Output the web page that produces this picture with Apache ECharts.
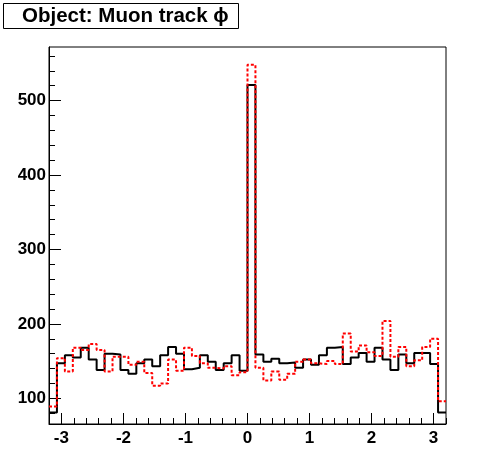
<!DOCTYPE html>
<html>
<head>
<meta charset="utf-8">
<script src="https://cdn.jsdelivr.net/npm/echarts@6/dist/echarts.min.js"></script>
<style>html,body{margin:0;padding:0;background:#fff;}#c{width:496px;height:472px;}</style>
</head>
<body>
<div id="c"></div>
<script>
// Histogram binning
const binLow = -3.2;
const binWidth = 0.128;
// Bin contents (50 bins)
const blackCounts = [81,147,158,155,168,152,138,160,159,138,133,147,152,143,158,169,160,139,141,158,149,138,147,158,137,521,159,149,153,147,148,141,152,145,158,168,169,146,155,161,149,168,152,138,159,147,161,161,146,81];
const redCounts = [89,154,136,168,165,173,165,136,156,156,145,149,134,117,120,152,137,168,157,147,141,140,143,131,135,548,141,124,136,125,133,149,152,147,146,150,146,187,163,171,162,157,204,156,169,143,151,169,180,96];
// Tick values
const xMajorTicks = [-3,-2,-1,0,1,2,3];
const xMinorTicks = [-3.2,-3.0,-2.8,-2.6,-2.4,-2.2,-2.0,-1.8,-1.6,-1.4,-1.2,-1.0,-0.8,-0.6,-0.4,-0.2,0,0.2,0.4,0.6,0.8,1.0,1.2,1.4,1.6,1.8,2.0,2.2,2.4,2.6,2.8,3.0,3.2];
const yMajorTicks = [100,200,300,400,500];
const yMinorTicks = [80,100,120,140,160,180,200,220,240,260,280,300,320,340,360,380,400,420,440,460,480,500,520,540,560];
const titleText = 'Object: Muon track \u03d5';

function histPoints(counts){
  const pts = counts.map((v,i)=>[binLow + i*binWidth, v]);
  pts.push([binLow + counts.length*binWidth, counts[counts.length-1]]);
  return pts;
}

const font = 'Liberation Sans, Arial, Helvetica, sans-serif';
const chart = echarts.init(document.getElementById('c'), null, {renderer:'canvas'});
const xMin = -3.2, xMax = 3.2, yMin = 65.5, yMax = 572;
chart.setOption({
  animation:false,
  backgroundColor:'#fff',
  grid:{left:49,right:50,top:47,bottom:48,show:true,borderColor:'#000',borderWidth:1,backgroundColor:'#fff'},
  graphic:[
    {type:'rect',shape:{x:3.5,y:3.5,width:235,height:25},style:{fill:'#fff',stroke:'#000',lineWidth:1},z:10},
    {type:'text',x:22,y:16.5,style:{text:titleText,font:'bold 20.5px '+font,fill:'#000',verticalAlign:'middle',align:'left'},z:11}
  ],
  xAxis:[
    {type:'value',min:xMin,max:xMax,position:'bottom',
     axisLine:{show:true,onZero:false,lineStyle:{color:'#000',width:1}},
     axisTick:{show:true,inside:true,length:11,customValues:xMajorTicks,lineStyle:{color:'#000',width:1}},
     axisLabel:{show:true,customValues:xMajorTicks,margin:6,color:'#000',fontWeight:'bold',fontSize:17,fontFamily:font,showMinLabel:true,showMaxLabel:true},
     splitLine:{show:false}},
    {type:'value',min:xMin,max:xMax,position:'bottom',
     axisLine:{show:false,onZero:false},
     axisTick:{show:true,inside:true,length:6,customValues:xMinorTicks,lineStyle:{color:'#000',width:1}},
     axisLabel:{show:false},splitLine:{show:false}}
  ],
  yAxis:[
    {type:'value',min:yMin,max:yMax,position:'left',
     axisLine:{show:true,onZero:false,lineStyle:{color:'#000',width:1}},
     axisTick:{show:true,inside:true,length:12,customValues:yMajorTicks,lineStyle:{color:'#000',width:1}},
     axisLabel:{show:true,customValues:yMajorTicks,margin:3,color:'#000',fontWeight:'bold',fontSize:17,fontFamily:font},
     splitLine:{show:false}},
    {type:'value',min:yMin,max:yMax,position:'left',offset:0,
     axisLine:{show:false,onZero:false},
     axisTick:{show:true,inside:true,length:6,customValues:yMinorTicks,lineStyle:{color:'#000',width:1}},
     axisLabel:{show:false},splitLine:{show:false}}
  ],
  series:[
    {type:'line',step:'end',data:histPoints(blackCounts),xAxisIndex:0,yAxisIndex:0,showSymbol:false,symbol:'none',
     lineStyle:{color:'#000',width:2,type:'solid'},z:2},
    {type:'line',step:'end',data:histPoints(redCounts),xAxisIndex:0,yAxisIndex:0,showSymbol:false,symbol:'none',
     lineStyle:{color:'#ff0000',width:2,type:[3,2]},z:3}
  ]
});
</script>
</body>
</html>
